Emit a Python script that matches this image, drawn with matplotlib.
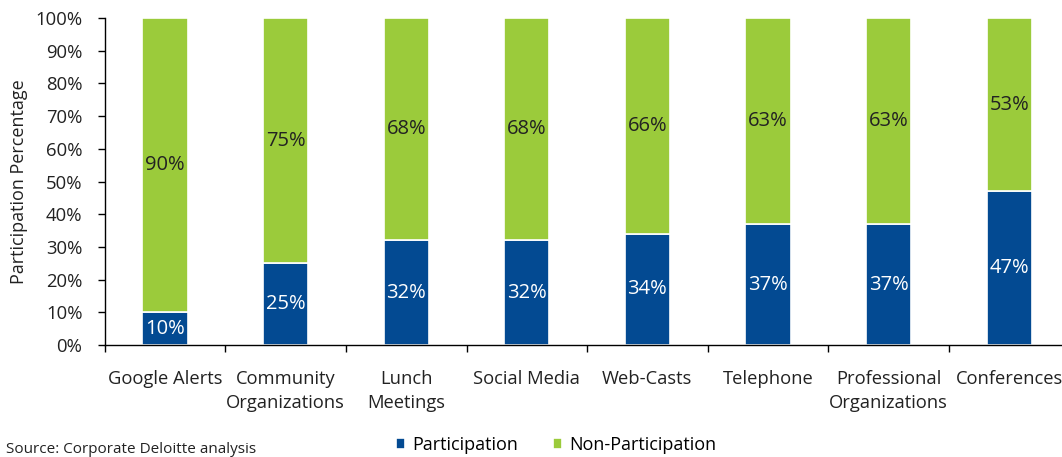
import matplotlib
matplotlib.use("Agg")
import matplotlib.pyplot as plt
import numpy as np

categories = ["Google Alerts", "Community\nOrganizations", "Lunch\nMeetings", "Social Media",
              "Web-Casts", "Telephone", "Professional\nOrganizations", "Conferences"]
participation = [10, 25, 32, 32, 34, 37, 37, 47]
non_participation = [90, 75, 68, 68, 66, 63, 63, 53]
yticks = [0, 10, 20, 30, 40, 50, 60, 70, 80, 90, 100]

BLUE = "#034A92"
GREEN = "#9BCB3B"
TXT = "#222222"

plt.rcParams['font.family'] = ['Open Sans', 'DejaVu Sans']

fig = plt.figure(figsize=(10.62, 4.57), dpi=100)
W, H = 1062, 457
left, right, top, bottom = 104.7, 1069.5, 18, 345
ax = fig.add_axes([left / W, 1 - bottom / H, (right - left) / W, (bottom - top) / H])

x = np.arange(len(categories))
bw = 0.375
b1 = ax.bar(x, participation, bw, color=BLUE, edgecolor="white", linewidth=1.2, label="Participation")
b2 = ax.bar(x, non_participation, bw, bottom=participation, color=GREEN, edgecolor="white",
            linewidth=1.2, label="Non-Participation")

for i in range(len(x)):
    ax.text(x[i], participation[i] / 2, f"{participation[i]}%", ha="center", va="center",
            color="white", fontsize=14.5)
    ax.text(x[i], participation[i] + non_participation[i] / 2, f"{non_participation[i]}%",
            ha="center", va="center", color=TXT, fontsize=14.5)

ax.set_xlim(-0.5, len(x) - 0.5)
ax.set_ylim(0, 100)
ax.set_yticks(yticks)
ax.set_yticklabels([f"{v}%" for v in yticks], fontsize=13.3, color=TXT)
ax.set_xticks(x)
ax.set_xticklabels(categories, fontsize=13.2, color=TXT, linespacing=1.4)
ax.set_xticks(np.arange(-0.5, len(x), 1), minor=True)
ax.tick_params(axis="x", which="major", length=0, pad=18)
ax.tick_params(axis="x", which="minor", length=5, width=1, direction="out")
ax.tick_params(axis="y", length=5, width=1, direction="out", pad=11)
for s in ["top", "right"]:
    ax.spines[s].set_visible(False)
ax.spines["left"].set_linewidth(1)
ax.spines["bottom"].set_linewidth(1)
ax.set_ylabel("Participation Percentage", fontsize=13, color=TXT)
ax.yaxis.set_label_coords(-(left - 28) / (right - left), 0.5)

handles = [b1, b2]
fig.legend(handles, ["Participation", "Non-Participation"], loc="center",
           bbox_to_anchor=(556 / W, 1 - 445 / H), ncol=2, frameon=False, fontsize=13,
           handlelength=0.5, handleheight=0.5, columnspacing=1.9, handletextpad=0.4)

fig.text(6 / W, 1 - 453 / H, "Source: Corporate Deloitte analysis", fontsize=11, color=TXT,
         va="baseline", ha="left")

fig.savefig("out.png", dpi=100)
